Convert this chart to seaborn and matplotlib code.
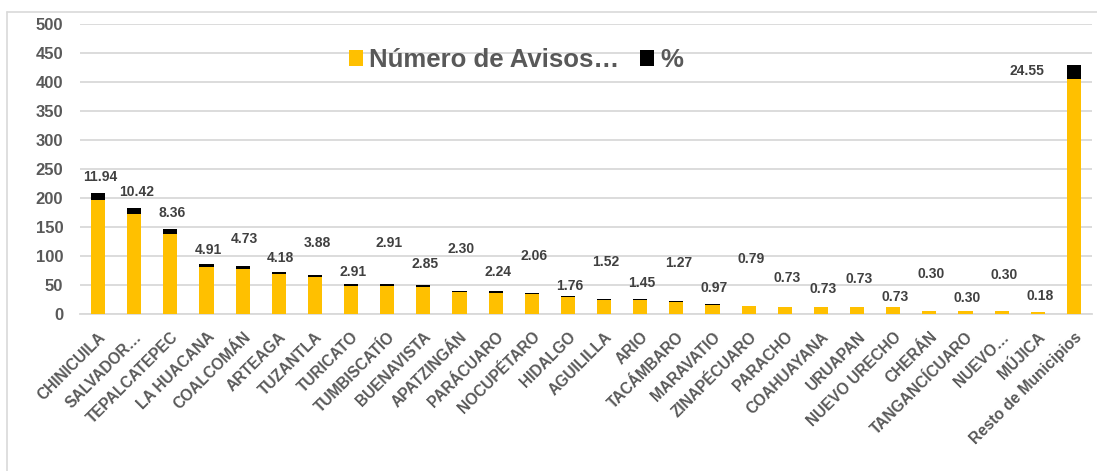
import matplotlib
matplotlib.use("Agg")
import matplotlib.pyplot as plt
import seaborn as sns
import pandas as pd
import numpy as np
from matplotlib.lines import Line2D
from matplotlib.patches import Patch

municipios = ["CHINICUILA", "SALVADOR…", "TEPALCATEPEC", "LA HUACANA", "COALCOMÁN",
              "ARTEAGA", "TUZANTLA", "TURICATO", "TUMBISCATÍO", "BUENAVISTA",
              "APATZINGÁN", "PARÁCUARO", "NOCUPÉTARO", "HIDALGO", "AGUILILLA",
              "ARIO", "TACÁMBARO", "MARAVATIO", "ZINAPÉCUARO", "PARACHO",
              "COAHUAYANA", "URUAPAN", "NUEVO URECHO", "CHERÁN", "TANGANCÍCUARO",
              "NUEVO…", "MÚJICA", "Resto de Municipios"]
avisos = [197, 172, 138, 81, 78, 69, 64, 48, 48, 47, 38, 37, 34, 29, 25, 24, 21,
          16, 13, 12, 12, 12, 12, 5, 5, 5, 3, 405]
porcentaje = [11.94, 10.42, 8.36, 4.91, 4.73, 4.18, 3.88, 2.91, 2.91, 2.85, 2.30,
              2.24, 2.06, 1.76, 1.52, 1.45, 1.27, 0.97, 0.79, 0.73, 0.73, 0.73,
              0.73, 0.30, 0.30, 0.30, 0.18, 24.55]

# vertical offsets (pixels) of the % labels above the bar tops (manually placed in source)
label_offsets_px = [16, 16, 16, 14, 27, 14, 32, 12, 41, 21, 42, 19, 37, 10, 37,
                    16, 38, 16, 47, 29, 18, 28, 10, 37, 13, 36, 16, -6]

YELLOW = "#FFC000"
GRAY_TXT = "#595959"
LABEL_TXT = "#404040"
GRID = "#D9D9D9"

df = pd.DataFrame({"municipio": municipios, "avisos": avisos, "pct": porcentaje})
df["total"] = df["avisos"] + df["pct"]

DPI = 100
fig = plt.figure(figsize=(10.97, 4.71), dpi=DPI)
sns.set_style("white")
plt.rcParams["font.family"] = ["Liberation Sans", "DejaVu Sans"]

W, H = 1097, 471
left, right, top, bottom = 80, 1092, 24, 314
ax = fig.add_axes([left / W, 1 - bottom / H, (right - left) / W, (bottom - top) / H])

sns.barplot(data=df, x="municipio", y="total", color="#000000", width=0.39,
            saturation=1, ax=ax, zorder=3, linewidth=0)
sns.barplot(data=df, x="municipio", y="avisos", color=YELLOW, width=0.39,
            saturation=1, ax=ax, zorder=4, linewidth=0)

ax.set_ylim(0, 500)
ax.set_xlim(-0.5, len(municipios) - 0.5)
ax.set_yticks(np.arange(0, 501, 50))
ax.yaxis.grid(True, color=GRID, linewidth=1.3, zorder=0)
ax.set_axisbelow(True)
for s in ["top", "right", "left"]:
    ax.spines[s].set_visible(False)
ax.spines["bottom"].set_color(GRID)
ax.spines["bottom"].set_linewidth(1.3)
ax.set_xlabel("")
ax.set_ylabel("")
ax.tick_params(axis="both", length=0)
ax.tick_params(axis="y", pad=12, labelsize=12, labelcolor=GRAY_TXT)
for t in ax.get_yticklabels():
    t.set_fontweight("bold")

ax.set_xticks(range(len(municipios)))
ax.set_xticklabels(municipios, rotation=45, ha="right", va="top",
                   rotation_mode="anchor", fontsize=11.2, fontweight="bold",
                   color=GRAY_TXT)
ax.tick_params(axis="x", pad=11)

# % labels
for i, (tot, p, off) in enumerate(zip(df["total"], porcentaje, label_offsets_px)):
    if i == len(municipios) - 1:
        dx = -47
    else:
        dx = 2
    ax.annotate(f"{p:.2f}", xy=(i, tot), xytext=(dx * 72 / DPI, off * 72 / DPI),
                textcoords="offset points", ha="center", va="center",
                fontsize=10, fontweight="bold", color=LABEL_TXT, zorder=5)

handles = [Patch(facecolor=YELLOW, edgecolor="none"),
           Patch(facecolor="#000000", edgecolor="none")]
leg = ax.legend(handles, ["Número de Avisos…", "%"], loc="center",
                bbox_to_anchor=(0.431, 0.876), ncol=2, frameon=False,
                fontsize=18.5, handlelength=0.55, handleheight=0.55,
                handletextpad=0.25, columnspacing=0.8)
for t in leg.get_texts():
    t.set_color(GRAY_TXT)
    t.set_fontweight("bold")

# chart-area border (light gray)
fig.add_artist(Line2D([7 / W, 7 / W], [0, 1 - 12 / H], transform=fig.transFigure,
                      color=GRID, linewidth=1.2))
fig.add_artist(Line2D([7 / W, 1], [1 - 12 / H, 1 - 12 / H], transform=fig.transFigure,
                      color=GRID, linewidth=1.2))

fig.savefig("out.png", dpi=DPI)
